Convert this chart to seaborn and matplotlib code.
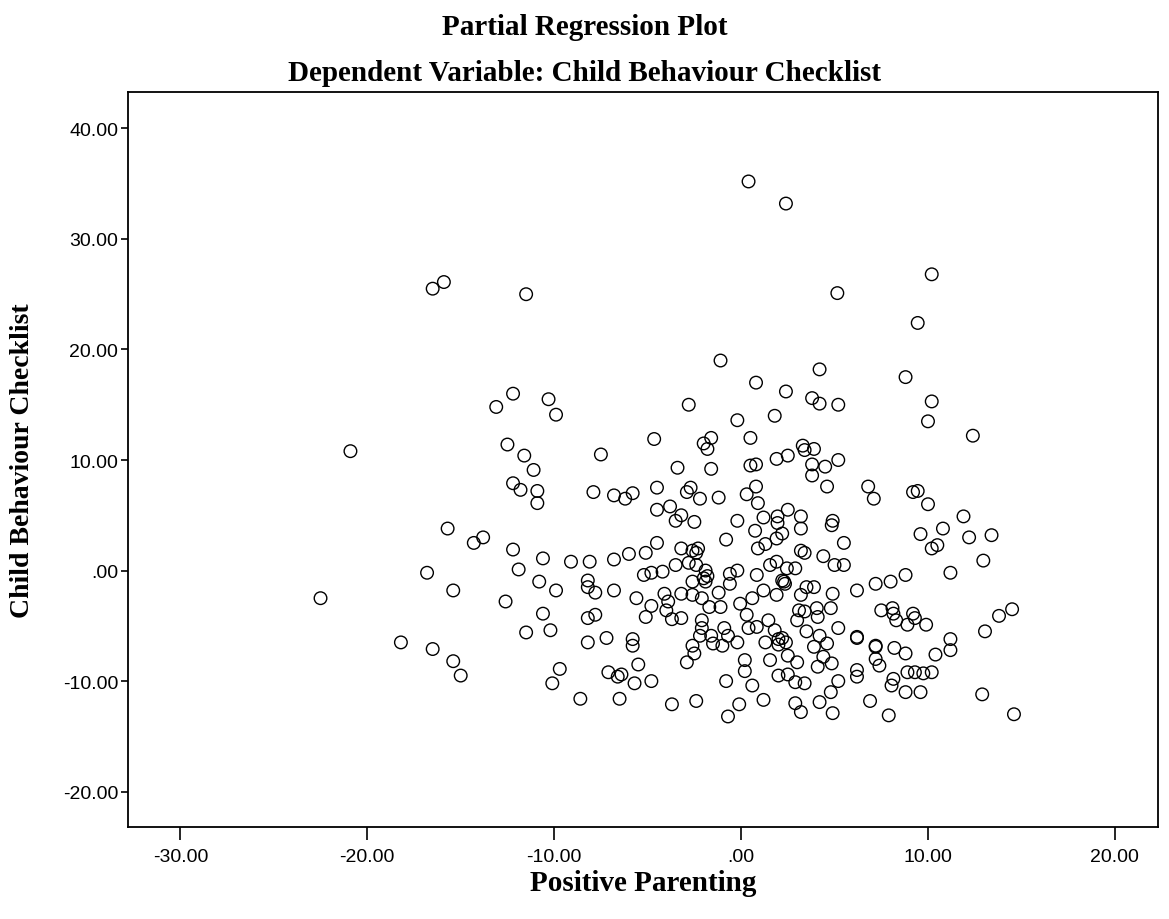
import numpy as np
import pandas as pd
import matplotlib
matplotlib.use("Agg")
import matplotlib.pyplot as plt
from matplotlib.ticker import FuncFormatter
import seaborn as sns

# Partial regression residuals
positive_parenting = [
    # left side
    -22.5, -20.9, -18.2, -16.8, -16.5, -15.9, -16.5, -15.7, -15.4, -15.4, -15.0, -14.3,
    -13.8, -13.1, -12.6, -12.5, -12.2, -12.2, -12.2, -11.9, -11.8, -11.6, -11.5, -11.5,
    -11.1, -10.9, -10.9, -10.8, -10.6, -10.6, -10.3, -10.2, -10.1, -9.9, -9.9, -9.7,
    # upper middle-left
    -9.1, -8.1, -6.8, -6.0, -5.1, -1.1, -2.8, -0.2, 0.5, -4.65, -2.0, -1.6, -1.8, -7.5,
    -3.4, -1.6, -7.9, -6.8, -6.2, -5.8, -4.5, -2.7, -2.9, -2.2, -1.2, -4.5, -3.8, -3.2,
    -3.5, -2.5, -0.2, -0.8, -4.5, -3.2, -2.6, -2.3, -2.4,
    # lower middle-left
    -8.2, -8.2, -7.8, -6.8, -5.2, -4.8, -4.2, -3.5, -2.8, -2.4, -1.9, -1.8, -1.9, -2.0,
    -0.6, -0.2, -5.6, -4.8, -5.1, -4.1, -3.9, -4.0, -3.7, -3.2, -3.2, -2.6, -2.6, -2.1,
    -1.7, -1.1, -1.2, -0.6, -0.05, 0.3, -8.2, -7.8, -8.2, -7.2, -5.8, -5.8, -7.1, -6.6,
    -6.4, -5.5, -5.7, -4.8, -8.6, -6.5, -3.7, -2.4, -0.8, -0.1, -0.7, -2.9, -2.5, -2.6,
    -2.2, -2.1, -2.1, -1.6, -1.5, -1.0, -0.9, -0.7, -0.2, 0.2, 0.2, 0.6, 0.4, 0.6,
    # upper middle-right
    4.2, 8.8, 0.8, 2.4, 3.8, 4.2, 5.2, 10.2, 10.0, 1.8, 3.3, 3.4, 3.9, 1.9, 2.5, 3.8,
    3.8, 4.5, 5.2, 0.5, 0.8, 4.6, 6.8, 7.1, 9.2, 9.45, 10.0, 0.8, 0.3, 0.9, 1.2, 1.95,
    1.95, 2.5, 3.2, 3.2, 4.9, 4.85, 0.75, 2.2, 1.9, 1.3, 0.9, 3.2, 3.4, 4.4, 5.5, 9.6,
    10.2, 10.5, 10.8,
    # lower middle-right
    5.0, 5.5, 0.84, 1.55, 1.9, 2.45, 2.9, 2.2, 2.3, 2.35, 1.2, 1.9, 3.2, 3.5, 3.9, 4.9,
    6.2, 7.2, 8.0, 8.8, 7.5, 8.1, 8.15, 8.3, 9.2, 9.3, 8.9, 9.9, 0.84, 1.46, 1.8, 2.0,
    2.2, 2.0, 2.4, 1.3, 1.55, 2.5, 3.0, 3.1, 3.4, 4.05, 4.8, 3.0, 4.1, 3.5, 4.2, 4.6,
    5.2, 3.9, 4.4, 4.1, 4.85, 6.2, 6.2, 7.2, 7.2, 7.2, 7.4, 8.2, 8.8, 10.4, 8.9, 9.3,
    9.75, 10.2, 8.15, 8.05, 8.8, 9.6, 7.9, 6.9, 6.2, 6.2, 5.2, 4.8, 4.9, 4.2, 2.9, 3.2,
    1.2, 2.0, 2.5, 2.9, 3.4,
    # right side
    12.4, 11.9, 12.2, 13.4, 12.96, 11.2, 13.8, 14.5, 13.05, 11.2, 11.2, 12.9, 14.6,
    # top outliers
    0.4, 2.4, 10.2, 5.15, 9.45,
]

child_behaviour = [
    # left side
    -2.5, 10.8, -6.5, -0.2, 25.5, 26.1, -7.1, 3.8, -1.8, -8.2, -9.5, 2.5,
    3.0, 14.8, -2.8, 11.4, 16.0, 7.9, 1.9, 0.1, 7.3, 10.4, 25.0, -5.6,
    9.1, 7.2, 6.1, -1.0, 1.1, -3.9, 15.5, -5.4, -10.2, 14.1, -1.8, -8.9,
    # upper middle-left
    0.8, 0.8, 1.0, 1.5, 1.6, 19.0, 15.0, 13.6, 12.0, 11.9, 11.5, 12.0, 11.0, 10.5,
    9.3, 9.2, 7.1, 6.8, 6.5, 7.0, 7.5, 7.5, 7.1, 6.5, 6.6, 5.5, 5.8, 5.0,
    4.5, 4.4, 4.5, 2.8, 2.5, 2.0, 1.8, 2.0, 1.6,
    # lower middle-left
    -0.9, -1.5, -2.0, -1.8, -0.4, -0.2, -0.1, 0.5, 0.7, 0.5, 0.0, -0.5, -1.0, -0.7,
    -0.3, 0.0, -2.5, -3.2, -4.2, -2.1, -2.8, -3.6, -4.4, -4.3, -2.1, -1.0, -2.2, -2.5,
    -3.3, -3.3, -2.0, -1.2, -3.0, -4.0, -4.3, -4.0, -6.5, -6.1, -6.2, -6.8, -9.2, -9.6,
    -9.4, -8.5, -10.2, -10.0, -11.6, -11.6, -12.1, -11.8, -10.0, -12.1, -13.2, -8.3, -7.5, -6.8,
    -5.9, -5.2, -4.5, -5.9, -6.6, -6.8, -5.2, -5.9, -6.5, -8.1, -9.1, -10.4, -5.2, -2.5,
    # upper middle-right
    18.2, 17.5, 17.0, 16.2, 15.6, 15.1, 15.0, 15.3, 13.5, 14.0, 11.3, 10.9, 11.0, 10.1, 10.4, 9.6,
    8.6, 9.4, 10.0, 9.5, 9.6, 7.6, 7.6, 6.5, 7.1, 7.2, 6.0, 7.6, 6.9, 6.1, 4.8, 4.9,
    4.3, 5.5, 4.9, 3.8, 4.5, 4.1, 3.6, 3.35, 2.9, 2.4, 2.0, 1.8, 1.6, 1.3, 2.5, 3.3,
    2.0, 2.3, 3.8,
    # lower middle-right
    0.5, 0.5, -0.4, 0.5, 0.8, 0.2, 0.2, -0.9, -1.0, -1.2, -1.8, -2.2, -2.2, -1.5, -1.5, -2.1,
    -1.8, -1.2, -1.0, -0.4, -3.6, -3.4, -3.9, -4.5, -3.9, -4.3, -4.9, -4.9, -5.1, -4.5, -5.4, -6.2,
    -6.1, -6.7, -6.5, -6.5, -8.1, -7.7, -8.3, -3.6, -3.7, -3.4, -3.4, -4.5, -4.2, -5.5, -5.9, -6.6,
    -5.2, -6.9, -7.8, -8.7, -8.4, -6.0, -6.1, -6.8, -6.9, -8.0, -8.6, -7.0, -7.5, -7.6, -9.2, -9.2,
    -9.3, -9.2, -9.8, -10.4, -11.0, -11.0, -13.1, -11.8, -9.0, -9.6, -10.0, -11.0, -12.9, -11.9, -12.0, -12.8,
    -11.7, -9.5, -9.4, -10.1, -10.2,
    # right side
    12.2, 4.9, 3.0, 3.2, 0.9, -0.2, -4.1, -3.5, -5.5, -6.2, -7.2, -11.2, -13.0,
    # top outliers
    35.2, 33.2, 26.8, 25.1, 22.4,
]

x_ticks = [-30, -20, -10, 0, 10, 20]
y_ticks = [-20, -10, 0, 10, 20, 30, 40]

df = pd.DataFrame({"Positive Parenting": positive_parenting,
                   "Child Behaviour Checklist": child_behaviour})


def spss_fmt(v, pos):
    s = f"{v:.2f}"
    if abs(v) < 1:
        s = s.replace("0.", ".", 1)
    return s


sns.set_style("ticks")
plt.rcParams["font.family"] = ["Liberation Sans", "DejaVu Sans"]
plt.rcParams["text.color"] = "black"
plt.rcParams["axes.labelcolor"] = "black"
plt.rcParams["xtick.color"] = "black"
plt.rcParams["ytick.color"] = "black"

fig = plt.figure(figsize=(11.69, 9.2), dpi=100)
ax = fig.add_axes([0.1095, 0.1, 0.881, 0.799])

sns.scatterplot(data=df, x="Positive Parenting", y="Child Behaviour Checklist",
                ax=ax, marker="o", s=82, color="black", linewidth=1.0)
ax.collections[0].set_facecolor("none")
ax.collections[0].set_edgecolor("black")

ax.set_xlim(-32.8, 22.3)
ax.set_ylim(-23.2, 43.3)
ax.set_xticks(x_ticks)
ax.set_yticks(y_ticks)
ax.xaxis.set_major_formatter(FuncFormatter(spss_fmt))
ax.yaxis.set_major_formatter(FuncFormatter(spss_fmt))
ax.tick_params(axis="x", direction="out", length=9, width=1.2, labelsize=14, pad=6)
ax.tick_params(axis="y", direction="out", length=5, width=1.2, labelsize=14, pad=2)

for side in ["left", "bottom", "top", "right"]:
    ax.spines[side].set_visible(True)
    ax.spines[side].set_color("black")
    ax.spines[side].set_linewidth(1.3)

serif = ["Liberation Serif", "DejaVu Serif"]
ax.set_xlabel("Positive Parenting", fontsize=21, fontweight="bold", family=serif)
ax.set_ylabel("Child Behaviour Checklist", fontsize=20, fontweight="bold", family=serif)
ax.xaxis.set_label_coords(0.5, -0.057)
ax.yaxis.set_label_coords(-0.09, 0.5)
fig.text(0.5, 0.970, "Partial Regression Plot", ha="center", va="center",
         fontsize=21, fontweight="bold", family=serif)
fig.text(0.5, 0.920, "Dependent Variable: Child Behaviour Checklist", ha="center", va="center",
         fontsize=21, fontweight="bold", family=serif)

fig.savefig("out.png", dpi=100)
